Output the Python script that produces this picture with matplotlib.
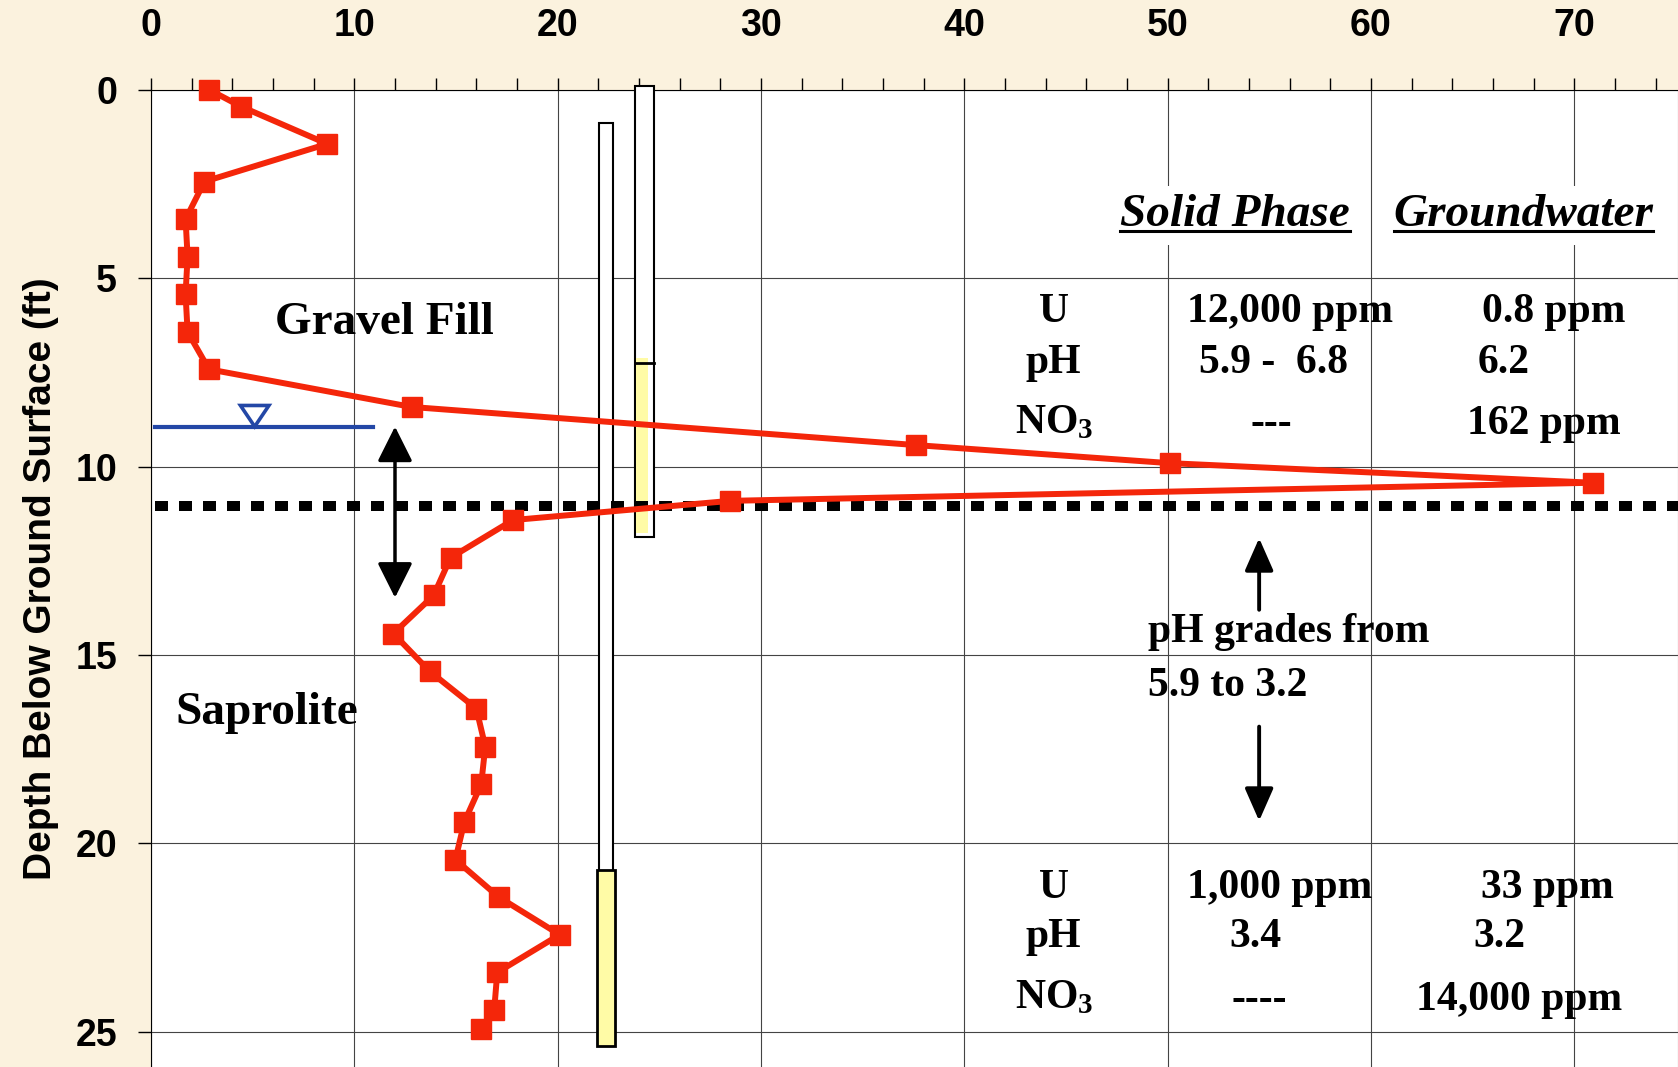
import numpy as np
import matplotlib
matplotlib.use('Agg')
import matplotlib.pyplot as plt
from matplotlib.patches import Rectangle, Polygon

# Dados
conc = [2.85, 4.43, 8.67, 2.63, 1.7, 1.8, 1.7, 1.8, 2.85, 12.82, 37.6, 50.1, 70.9,
        28.5, 17.8, 14.73, 13.9, 11.92, 13.7, 16.0, 16.44, 16.24, 15.41, 14.97,
        17.1, 20.1, 17.03, 16.88, 16.24]
depth = [0.0, 0.45, 1.44, 2.44, 3.44, 4.43, 5.43, 6.43, 7.42, 8.42, 9.43, 9.91, 10.43,
         10.91, 11.42, 12.42, 13.42, 14.43, 15.43, 16.42, 17.43, 18.43, 19.43, 20.43,
         21.42, 22.42, 23.42, 24.41, 24.92]

water_table = 8.94
contact_depth = 11.05

# poços: x esquerdo, x direito, topo, base
well_a = [22.05, 22.73, 0.89, 25.36]
screen_a = [21.95, 22.83, 20.7, 25.36]
well_b = [23.8, 24.74, -0.1, 11.87]
screen_b_top = 7.24

top_rows = [['U', '12,000 ppm', '0.8 ppm'],
            ['pH', '5.9 -  6.8', '6.2'],
            ['NO$_3$', '---', '162 ppm']]
bottom_rows = [['U', '1,000 ppm', '33 ppm'],
               ['pH', '3.4', '3.2'],
               ['NO$_3$', '----', '14,000 ppm']]

plt.rcParams['font.family'] = 'Liberation Sans'
plt.rcParams['font.weight'] = 'bold'
plt.rcParams['mathtext.default'] = 'regular'

red = '#F4260A'
blue = '#2347A6'
serif = dict(family='Liberation Serif', weight='bold')

fig = plt.figure(figsize=(16.78, 10.67), dpi=100)
fig.patch.set_facecolor('#FBF2DE')
ax = fig.add_axes([151/1678, 0, 1 - 151/1678, 1 - 89.6/1067])
ax.set_facecolor('white')
ax.set_xlim(0, 75.1)
ax.set_ylim(25.93, 0)

# Eixos
ax.xaxis.tick_top()
ax.set_xticks(np.arange(0, 71, 10))
ax.set_xticks(np.arange(0, 75, 2), minor=True)
ax.tick_params(axis='x', which='both', direction='out', length=8.6, width=1, pad=24, labelsize=27)
ax.set_yticks(np.arange(0, 26, 5))
ax.tick_params(axis='y', direction='out', length=9.4, width=1, pad=15, labelsize=27)
ax.grid(True, which='major', color='#444444', lw=0.8)
ax.spines['bottom'].set_visible(False)
ax.spines['right'].set_color('#777777')
ax.set_ylabel('Depth Below Ground Surface (ft)', fontsize=28, fontweight='bold', labelpad=12)

# Poços
ax.add_patch(Rectangle((well_a[0], well_a[2]), well_a[1] - well_a[0], well_a[3] - well_a[2],
                       fc='white', ec='black', lw=1.5, zorder=3))
ax.add_patch(Rectangle((screen_a[0], screen_a[2]), screen_a[1] - screen_a[0], screen_a[3] - screen_a[2],
                       fc='#FFFBA6', ec='black', lw=2, zorder=3))
ax.add_patch(Rectangle((well_b[0], well_b[2]), well_b[1] - well_b[0], well_b[3] - well_b[2],
                       fc='white', ec='black', lw=1.5, zorder=3, clip_on=False))
ax.add_patch(Rectangle((well_b[0] + 0.06, screen_b_top - 0.12), 0.57, well_b[3] - screen_b_top,
                       fc='#FFFBA6', ec='none', zorder=3))
ax.plot([well_b[0], well_b[1]], [screen_b_top, screen_b_top], color='black', lw=2, zorder=3)

# Nível d'água e contato
ax.plot([0.2, 10.9], [water_table, water_table], color=blue, lw=3, zorder=4)
ax.add_patch(Polygon([[4.4, water_table - 0.56], [5.8, water_table - 0.56], [5.1, water_table]],
                     closed=True, fc='white', ec=blue, lw=2.6, zorder=4))
ax.plot([0.2, 75.1], [contact_depth, contact_depth], color='black', lw=7.2,
        dashes=(1.3, 1.1), dash_capstyle='butt', zorder=4)

# Perfil
ax.plot(conc, depth, '-s', color=red, lw=4.3, ms=15, zorder=5, clip_on=False)

# Setas
ax.annotate('', xy=(12, water_table), xytext=(12, 13.48),
            arrowprops=dict(arrowstyle='<|-|>,head_length=0.4,head_width=0.2', color='black',
                            lw=2.5, mutation_scale=54, shrinkA=0, shrinkB=0), zorder=6)
ax.annotate('', xy=(54.5, 11.9), xytext=(54.5, 13.8),
            arrowprops=dict(arrowstyle='-|>,head_length=0.5,head_width=0.22', color='black',
                            lw=2.8, mutation_scale=40, shrinkA=0, shrinkB=0), zorder=6)
ax.annotate('', xy=(54.5, 19.4), xytext=(54.5, 16.9),
            arrowprops=dict(arrowstyle='-|>,head_length=0.5,head_width=0.22', color='black',
                            lw=2.8, mutation_scale=40, shrinkA=0, shrinkB=0), zorder=6)

# Textos
ax.text(11.5, 6.2, 'Gravel Fill', ha='center', va='center', fontsize=34, **serif)
ax.text(5.7, 16.55, 'Saprolite', ha='center', va='center', fontsize=34, **serif)
ax.text(49.05, 14.4, 'pH grades from', ha='left', va='center', fontsize=30, **serif)
ax.text(49.05, 15.82, '5.9 to 3.2', ha='left', va='center', fontsize=30, **serif)

headers = []
for xc, s in [(53.3, 'Solid Phase'), (67.5, 'Groundwater')]:
    t = ax.text(xc, 3.62, s, ha='center', va='baseline', fontsize=34, style='italic',
                family='Liberation Serif', weight='bold', zorder=7,
                bbox=dict(fc='white', ec='none', pad=6))
    headers.append(t)

col_x = [44.4, 55.7, 68.3]
top_y = [5.9, 7.24, 8.85]
bot_y = [21.18, 22.48, 24.1]
for rows, ys in [(top_rows, top_y), (bottom_rows, bot_y)]:
    for row, y in zip(rows, ys):
        ax.text(col_x[0], y, row[0], ha='center', va='center', fontsize=30, **serif)
ax_vals = [(56.0, 5.9, '12,000 ppm'), (55.2, 7.24, '5.9 -  6.8'), (55.1, 8.88, '---'),
           (69.0, 5.9, '0.8 ppm'), (66.5, 7.24, '6.2'), (68.5, 8.88, '162 ppm'),
           (55.5, 21.18, '1,000 ppm'), (54.3, 22.48, '3.4'), (54.5, 24.14, '----'),
           (68.7, 21.18, '33 ppm'), (66.3, 22.48, '3.2'), (67.3, 24.14, '14,000 ppm')]
for x, y, s in ax_vals:
    ax.text(x, y, s, ha='center', va='center', fontsize=30, **serif)

# Sublinhado dos títulos
fig.canvas.draw()
inv = ax.transData.inverted()
for t in headers:
    bb = t.get_window_extent()
    x0 = inv.transform((bb.x0, bb.y0))[0]
    x1 = inv.transform((bb.x1, bb.y0))[0]
    ax.plot([x0, x1], [3.76, 3.76], color='black', lw=2.2, zorder=8)

fig.savefig('out.png', dpi=100, facecolor=fig.get_facecolor())
